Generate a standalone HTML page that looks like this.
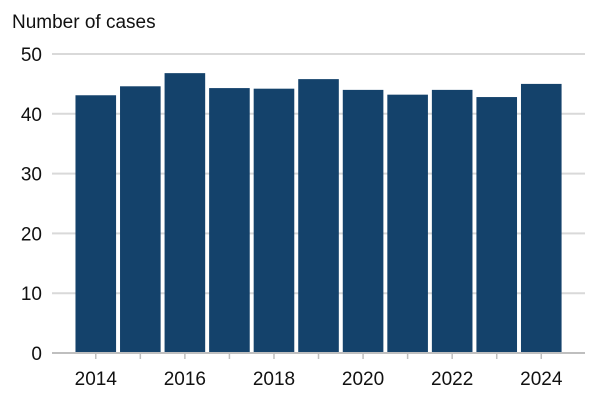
<!DOCTYPE html>
<html><head><meta charset="utf-8"><style>
body{margin:0;background:#fff;}
svg text{font-family:"Liberation Sans",Arial,sans-serif;fill:#111;}
</style></head><body>
<svg width="600" height="400">
<text x="12" y="28" font-size="19">Number of cases</text>
<g id="grid"></g><g id="bars"></g><g id="xaxis"></g>
</svg>
<script>
const years=[2014,2015,2016,2017,2018,2019,2020,2021,2022,2023,2024];
const cases=[43.1,44.6,46.8,44.3,44.2,45.8,44.0,43.2,44.0,42.8,45.0];
const yTicks=[0,10,20,30,40,50];
const xLabels=[2014,2016,2018,2020,2022,2024];
const NS='http://www.w3.org/2000/svg';
const y0=353,y1=54,yMax=50;
const y=v=>y0-(y0-y1)*v/yMax;
const left=73.5,slot=44.55;
const xc=i=>left+slot*(i+0.5);
function mk(t,a,p){const e=document.createElementNS(NS,t);for(const k in a)e.setAttribute(k,a[k]);p.appendChild(e);return e;}
const grid=document.getElementById('grid'),bars=document.getElementById('bars'),xa=document.getElementById('xaxis');
yTicks.forEach(v=>{
 if(v>0){const l=mk('line',{x1:52,x2:585,y1:y(v),y2:y(v),stroke:'#d9d9d9','stroke-width':2},grid);
 
 }
 const t=mk('text',{x:42,y:y(v)+7,'text-anchor':'end','font-size':19},grid);t.textContent=v;
 
 
});
cases.forEach((v,i)=>{
 const r=mk('rect',{x:xc(i)-20.3,y:y(v),width:40.6,height:y0-y(v),fill:'#14426b'},bars);
 
 
});
const base=mk('line',{x1:52,x2:585,y1:y0,y2:y0,stroke:'#bfbfbf','stroke-width':2},xa);


years.forEach((yr,i)=>{
 const tk=mk('line',{x1:xc(i),x2:xc(i),y1:y0,y2:y0+6,stroke:'#bfbfbf','stroke-width':1.5},xa);
 
 
 if(xLabels.includes(yr)){const t=mk('text',{x:xc(i),y:385,'text-anchor':'middle','font-size':19},xa);t.textContent=yr;
 
 }
});
</script>
</body></html>
